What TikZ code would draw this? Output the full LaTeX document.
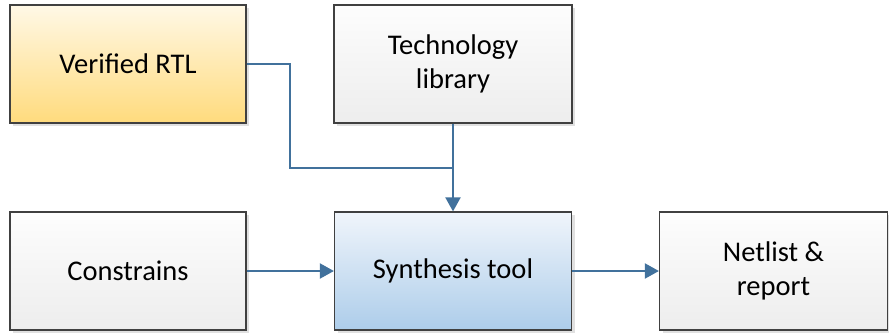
\documentclass[tikz,border=0pt]{standalone}
\usepackage{fontspec}
\setmainfont{Carlito}
\usepackage{tikz}
\usetikzlibrary{positioning,calc,shadows,arrows.meta}
\definecolor{BoxBorder}{HTML}{404040}
\definecolor{FlowBlue}{HTML}{41719C}
\definecolor{GoldTop}{HTML}{FFF8E6}
\definecolor{GoldBottom}{HTML}{FFDB7D}
\definecolor{GrayTop}{HTML}{FDFDFD}
\definecolor{GrayBottom}{HTML}{EDEDED}
\definecolor{BlueTop}{HTML}{F0F5FB}
\definecolor{BlueBottom}{HTML}{ADCDEA}

\begin{document}
\begin{tikzpicture}[
  x=1pt, y=-1pt,
  fbox/.style={rectangle, draw=BoxBorder, line width=1.2pt,
               minimum width=236pt, minimum height=118pt, inner sep=0pt,
               top color=GrayTop, bottom color=GrayBottom,
               font=\fontsize{28.5}{34}\selectfont, align=center, text=black,
               drop shadow={shadow xshift=3pt, shadow yshift=-3pt, fill=black, opacity=0.12}},
  inbox/.style={fbox, top color=GoldTop, bottom color=GoldBottom},
  toolbox/.style={fbox, top color=BlueTop, bottom color=BlueBottom},
  conn/.style={line width=2pt, color=FlowBlue},
  arr/.style={conn, -{Triangle[length=14pt, width=15pt]}},
]
  \useasboundingbox (0,0) rectangle (889,333);

  % Inputs
  \node[inbox] (rtl) at (128,64) {Verified RTL};
  \node[fbox, minimum width=238pt] (techlib) at (453,64) {Technology\\library};
  \node[fbox] (constr) at (128,271) {Constrains};

  % Tool and output
  \node[toolbox, minimum width=237pt] (synth) at (453,271) {Synthesis tool};
  \node[fbox, minimum width=228pt] (netlist) at (773.5,271) {Netlist \&\\report};

  % Connectors
  \coordinate (bend) at (290,168);
  \coordinate (join) at (techlib.south |- bend);
  \draw[conn] (rtl.east) -| (bend) -- (join);
  \draw[arr] (techlib) -- (synth);
  \draw[arr] (constr) -- (synth);
  \draw[arr] (synth) -- (netlist);
\end{tikzpicture}
\end{document}
